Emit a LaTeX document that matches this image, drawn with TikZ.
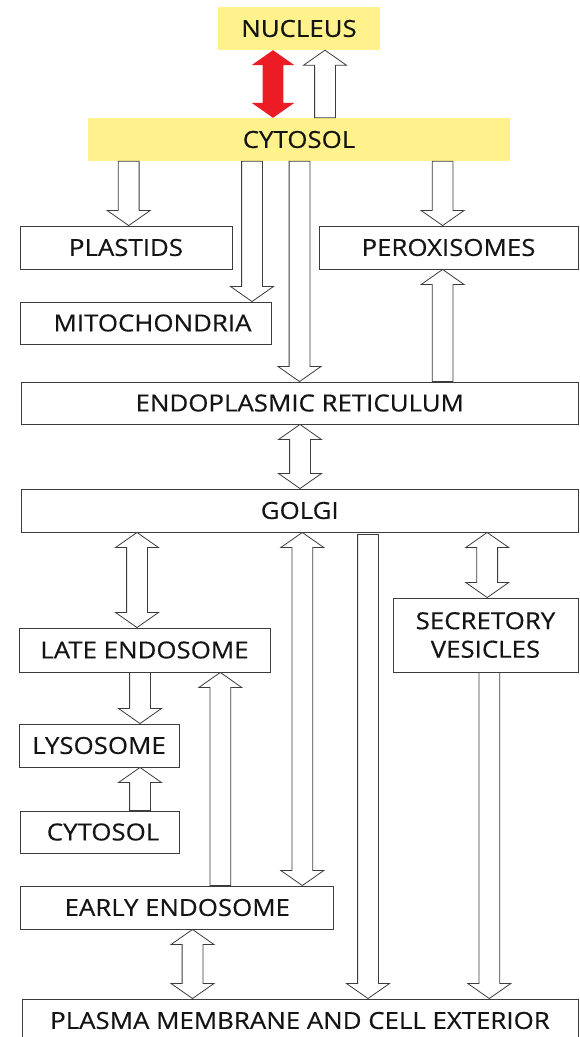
\documentclass[tikz,border=0pt]{standalone}
\usepackage{fontspec}
\setmainfont{Open Sans}[FakeStretch=1.1,FakeBold=0.4]
\usetikzlibrary{calc}
\definecolor{ylw}{RGB}{255,241,140}
\definecolor{rd}{RGB}{236,28,36}
\definecolor{ln}{RGB}{60,60,60}
\newcommand\SW{10.4pt}
\newcommand\HW{21.4pt}
\newcommand\HL{15pt}
\newcommand\arrdown[3][blk]{\draw[#1] let \p1=(#2), \p2=(#3) in (\x2-\SW,\y1) -- (\x2-\SW,\y2+\HL) -- (\x2-\HW,\y2+\HL) -- (\x2,\y2) -- (\x2+\HW,\y2+\HL) -- (\x2+\SW,\y2+\HL) -- (\x2+\SW,\y1) -- cycle;}
\newcommand\arrup[3][blk]{\draw[#1] let \p1=(#2), \p2=(#3) in (\x2-\SW,\y1) -- (\x2-\SW,\y2-\HL) -- (\x2-\HW,\y2-\HL) -- (\x2,\y2) -- (\x2+\HW,\y2-\HL) -- (\x2+\SW,\y2-\HL) -- (\x2+\SW,\y1) -- cycle;}
\newcommand\arrboth[3][blk]{\draw[#1] let \p1=(#2), \p2=(#3) in (\x1,\y1) -- (\x1+\HW,\y1-\HL) -- (\x1+\SW,\y1-\HL) -- (\x1+\SW,\y2+\HL) -- (\x1+\HW,\y2+\HL) -- (\x1,\y2) -- (\x1-\HW,\y2+\HL) -- (\x1-\SW,\y2+\HL) -- (\x1-\SW,\y1-\HL) -- (\x1-\HW,\y1-\HL) -- cycle;}
\begin{document}
\begin{tikzpicture}[x=1pt,y=-1pt,
  box/.style={draw=ln, line width=0.9pt, inner sep=0pt, font=\fontsize{23.5}{28.5}\selectfont, text=black!92},
  ybox/.style={fill=ylw, inner sep=0pt, font=\fontsize{23.5}{28.5}\selectfont, text=black!92},
  blk/.style={draw=ln, fill=white, line width=0.8pt, line join=miter},
  redarr/.style={fill=rd, draw=none}]
\useasboundingbox (0,0) rectangle (579,1037);
% boxes
\node[ybox, minimum width=162pt, minimum height=43pt] (nuc) at (299,28.5) {NUCLEUS};
\node[ybox, minimum width=422pt, minimum height=43pt] (cyt) at (299,139.5) {CYTOSOL};
\node[box, minimum width=212pt, minimum height=43pt] (plas) at (126,247.5) {PLASTIDS};
\node[box, minimum width=259pt, minimum height=43pt] (perox) at (448.5,247.5) {PEROXISOMES};
\node[box, minimum width=251pt, minimum height=42pt] (mito) at (145.5,323) {\hspace{14pt}MITOCHONDRIA};
\node[box, minimum width=556.5pt, minimum height=42pt] (er) at (299.75,403) {ENDOPLASMIC RETICULUM};
\node[box, minimum width=556.5pt, minimum height=43pt] (golgi) at (299.75,510.5) {GOLGI};
\node[box, minimum width=251pt, minimum height=44pt] (late) at (144.5,650) {LATE ENDOSOME};
\node[box, minimum width=185pt, minimum height=74pt, align=center] (secr) at (485.5,635) {SECRETORY\\VESICLES};
\node[box, minimum width=160pt, minimum height=43pt] (lyso) at (99,745.5) {LYSOSOME};
\node[box, minimum width=159pt, minimum height=42pt] (cyt2) at (99.5,832) {\hspace{7pt}CYTOSOL};
\node[box, minimum width=313pt, minimum height=43pt] (early) at (177.3,907.5) {EARLY ENDOSOME};
\node[box, minimum width=556pt, minimum height=43pt] (pm) at (300,1020.5) {PLASMA MEMBRANE AND CELL EXTERIOR};
% arrows
\arrboth[redarr]{nuc.south -| 273,0}{cyt.north -| 273,0}
\arrup{cyt.north -| 325,0}{nuc.south -| 325,0}
\arrdown{cyt.south -| 128.7,0}{plas.north -| 128.7,0}
\arrdown{cyt.south -| 252,0}{mito.north -| 252,0}
\arrdown{cyt.south -| 299.5,0}{er.north -| 299.5,0}
\arrdown{cyt.south -| 442.6,0}{perox.north -| 442.6,0}
\arrup{er.north -| 442.6,0}{perox.south -| 442.6,0}
\arrboth{er.south -| 300,0}{golgi.north -| 300,0}
\arrboth{golgi.south -| 137,0}{late.north -| 137,0}
\arrboth{golgi.south -| 302.3,0}{early.north -| 302.3,0}
\coordinate (gp) at ($(golgi.south -| 368,0)+(0,2)$);
\arrdown{gp}{pm.north -| 368,0}
\arrboth{golgi.south -| 487.2,0}{secr.north -| 487.2,0}
\arrdown{late.south -| 140,0}{lyso.north -| 140,0}
\arrup{cyt2.north -| 140,0}{lyso.south -| 140,0}
\arrup{early.north -| 220.3,0}{late.south -| 220.3,0}
\arrboth{early.south -| 192.5,0}{pm.north -| 192.5,0}
\arrdown{secr.south -| 489.3,0}{pm.north -| 489.3,0}
\end{tikzpicture}
\end{document}
